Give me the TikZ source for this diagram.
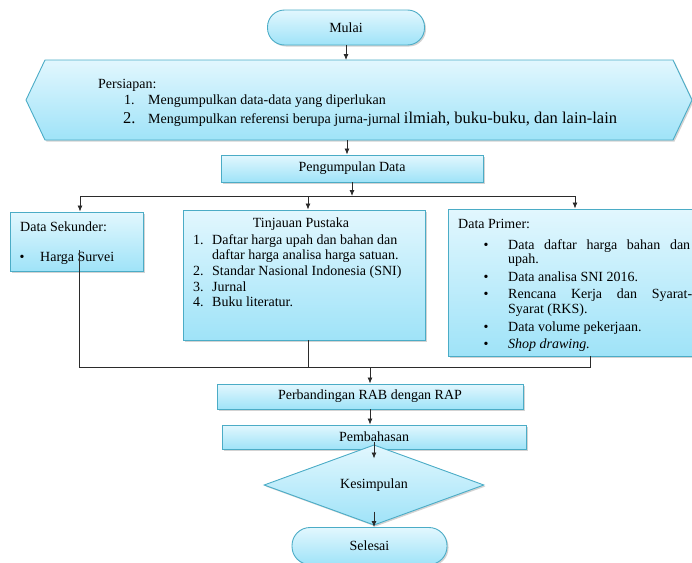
\documentclass[tikz,border=0pt]{standalone}
\usepackage{fontspec}
\setmainfont{Liberation Serif}
\usetikzlibrary{shapes.geometric,shadows,arrows.meta}

\definecolor{garis}{HTML}{4BACC6}
\definecolor{atas}{HTML}{E2F7FE}
\definecolor{bawah}{HTML}{9FE3F8}
\definecolor{panah}{HTML}{2B2B2B}

\begin{document}
\begin{tikzpicture}[x=1pt,y=-1pt,>={Latex[length=6pt,width=5pt]},
	every node/.style={font=\fontsize{14}{16}\selectfont},
	kotak/.style={draw=garis,line width=0.9pt,top color=atas,bottom color=bawah,
		inner sep=0pt,drop shadow={shadow xshift=1.5pt,shadow yshift=-1.5pt,opacity=0.35}},
	tulis/.style={anchor=base west,inner sep=0pt},
	alur/.style={draw=panah,line width=0.8pt}]

\useasboundingbox (0,0) rectangle (692,562);
\clip (0,0) rectangle (692,562);

% kotak-kotak
\node (mulai) at (346,27.5)
	[kotak,rounded corners=17pt,minimum width=157pt,minimum height=35pt]
	{Mulai};

\path[kotak] (26,100) -- (45,60) -- (673,60) -- (692,100) -- (673,140) -- (45,140) -- cycle;
\coordinate (persiapanAtas) at (347,60);
\coordinate (persiapanBawah) at (347,140);

\node (pengumpulan) at (352,168.5)
	[kotak,minimum width=262pt,minimum height=27pt]
	{Pengumpulan Data};

\node (sekunder) at (76.5,241.5)
	[kotak,minimum width=133pt,minimum height=59pt] {};

\node (tinjauan) at (304,275)
	[kotak,minimum width=242pt,minimum height=130pt] {};

\node (primer) at (572.5,282.5)
	[kotak,minimum width=249pt,minimum height=147pt] {};

\node (perbandingan) at (370,396.5)
	[kotak,minimum width=306pt,minimum height=25pt]
	{Perbandingan RAB dengan RAP};

\node (pembahasan) at (374,437)
	[kotak,minimum width=304pt,minimum height=24pt]
	{Pembahasan};

\node (kesimpulan) at (374,485)
	[kotak,diamond,minimum width=220pt,minimum height=53pt]
	{Kesimpulan};

\node (selesai) at (369.5,546)
	[kotak,rounded corners=18pt,minimum width=155pt,minimum height=37pt]
	{Selesai};

% tulisan persiapan
\node (judulPersiapan) at (98,88) [tulis] {Persiapan:};
\node (nomorSatu) at (124,104) [tulis] {1.};
\node (butirSatu) at (148,104) [tulis] {Mengumpulkan data-data yang diperlukan};
\node (nomorDua) at (123,123) [tulis] {\fontsize{16.5}{18}\selectfont 2.};
\node (butirDua) at (148,123) [tulis]
	{Mengumpulkan referensi berupa jurna-jurnal
	{\fontsize{16.5}{18}\selectfont ilmiah, buku-buku, dan lain-lain}};

% tulisan data sekunder
\node (judulSekunder) at (20,231) [tulis] {Data Sekunder:};
\node (titikSekunder) at (19.5,261) [tulis] {\textbullet};
\node (hargaSurvei) at (40,261) [tulis] {Harga Survei};

% tulisan tinjauan pustaka
\node (judulTinjauan) at (301,227) [anchor=base,inner sep=0pt] {Tinjauan Pustaka};
\node (nomorT1) at (193,244) [tulis] {1.};
\node (isiT1) at (212,244) [tulis] {Daftar harga upah dan bahan dan};
\node (isiT1b) at (212,259) [tulis] {daftar harga analisa harga satuan.};
\node (nomorT2) at (193,275) [tulis] {2.};
\node (isiT2) at (212,275) [tulis] {Standar Nasional Indonesia (SNI)};
\node (nomorT3) at (193,291) [tulis] {3.};
\node (isiT3) at (212,291) [tulis] {Jurnal};
\node (nomorT4) at (193,306) [tulis] {4.};
\node (isiT4) at (212,306) [tulis] {Buku literatur.};

% tulisan data primer
\node (judulPrimer) at (458,228) [tulis] {Data Primer:};
\node (titikP1) at (483.5,249) [tulis] {\textbullet};
\node (isiP1) at (508,249) [tulis] {\makebox[182pt][s]{Data daftar harga bahan dan}};
\node (isiP1b) at (508,263) [tulis] {upah.};
\node (titikP2) at (483.5,281) [tulis] {\textbullet};
\node (isiP2) at (508,281) [tulis] {Data analisa SNI 2016.};
\node (titikP3) at (483.5,298) [tulis] {\textbullet};
\node (isiP3) at (508,298) [tulis] {\makebox[184pt][s]{Rencana Kerja dan Syarat-}};
\node (isiP3b) at (508,313) [tulis] {Syarat (RKS).};
\node (titikP4) at (483.5,331) [tulis] {\textbullet};
\node (isiP4) at (508,331) [tulis] {Data volume pekerjaan.};
\node (titikP5) at (483.5,348) [tulis] {\textbullet};
\node (isiP5) at (508,348) [tulis] {\textit{Shop drawing.}};

% garis alur
\coordinate (cabangKiri) at (80,196);
\coordinate (cabangTengah) at (308,196);
\coordinate (cabangKanan) at (575,196);
\coordinate (sekunderDalam) at (79,250);
\coordinate (gabungKiri) at (79,367);
\coordinate (gabungKanan) at (590,367);
\coordinate (pembahasanDalam) at ([yshift=-5pt]pembahasan.center);
\coordinate (kesimpulanAtas) at ([yshift=26.5pt]kesimpulan.center);
\coordinate (kesimpulanBawah) at ([yshift=-26.5pt]kesimpulan.center);

\draw[alur,->] (mulai.south) -- (mulai.south |- persiapanAtas);
\draw[alur,->] (persiapanBawah) -- (persiapanBawah |- pengumpulan.north);
\draw[alur,->] (pengumpulan.south) -- (pengumpulan.south |- cabangKiri);
\draw[alur] (cabangKiri) -- (cabangKanan);
\draw[alur,->] (cabangKiri) -- (cabangKiri |- sekunder.north);
\draw[alur,->] (cabangTengah) -- (cabangTengah |- tinjauan.north);
\draw[alur,->] (cabangKanan) -- (cabangKanan |- primer.north);

\draw[alur] (sekunderDalam) -- (gabungKiri) -- (gabungKanan) -- (gabungKanan |- primer.south);
\draw[alur] (cabangTengah |- tinjauan.south) -- (cabangTengah |- gabungKiri);
\draw[alur,->] (perbandingan.north |- gabungKiri) -- (perbandingan.north);
\draw[alur,->] (perbandingan.south) -- (perbandingan.south |- pembahasan.north);
\draw[alur,->] (pembahasanDalam) -- (kesimpulanAtas);
\draw[alur,->] (kesimpulanBawah) -- (kesimpulanBawah |- selesai.north);

\end{tikzpicture}
\end{document}
